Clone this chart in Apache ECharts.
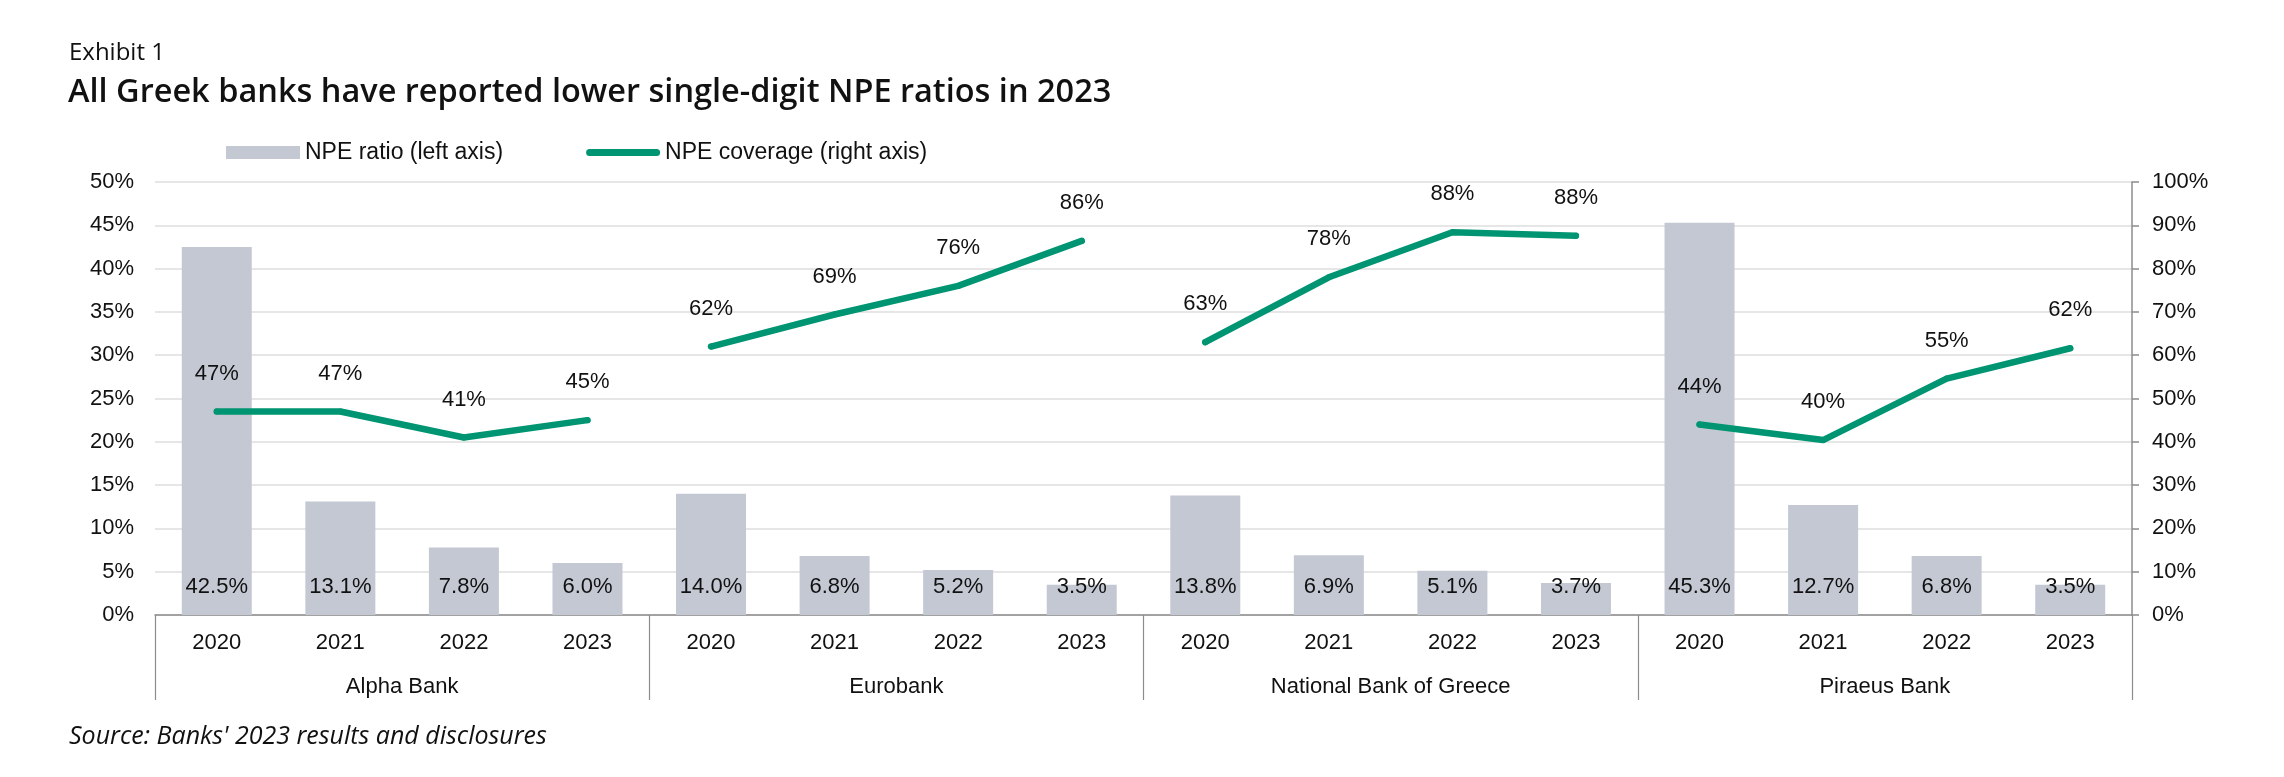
<!DOCTYPE html>
<html>
<head>
<meta charset="utf-8">
<script src="https://cdn.jsdelivr.net/npm/echarts@6/dist/echarts.min.js"></script>
<style>
html,body{margin:0;padding:0;background:#fff;}
#chart{width:2284px;height:777px;}
</style>
</head>
<body>
<div id="chart"></div>
<script>
// ---- data ----
const banks = ['Alpha Bank', 'Eurobank', 'National Bank of Greece', 'Piraeus Bank'];
const years = ['2020', '2021', '2022', '2023'];
const npeRatio = [42.5, 13.1, 7.8, 6.0, 14.0, 6.8, 5.2, 3.5, 13.8, 6.9, 5.1, 3.7, 45.3, 12.7, 6.8, 3.5];
const coverageAlpha = [47, 47, 41, 45];
const coverageEurobank = [62, 69.4, 76, 86.4];
const coverageNBG = [63, 78, 88.4, 87.6];
const coveragePiraeus = [44, 40.4, 54.6, 61.6];
const leftTicks = [0, 50, 5];
const rightTicks = [0, 100, 10];

const coverage = [coverageAlpha, coverageEurobank, coverageNBG, coveragePiraeus];
const yearCats = [];
banks.forEach(b => years.forEach(y => yearCats.push(y)));

const LINE = '#009572';
const BAR = '#c4c8d3';
const AX = '#8c8c8c';
const FONT = '"Liberation Sans", Arial, sans-serif';
const lineName = 'NPE coverage (right axis)';

const lineSeries = coverage.map((vals, bi) => {
  const data = yearCats.map(() => null);
  vals.forEach((v, j) => { data[bi * years.length + j] = v; });
  return {
    name: lineName,
    type: 'line',
    yAxisIndex: 1,
    data: data,
    connectNulls: false,
    symbol: 'circle',
    symbolSize: 6,
    itemStyle: { color: LINE },
    lineStyle: { color: LINE, width: 6.5, cap: 'round', join: 'round' },
    label: {
      show: true, position: 'top', distance: 24,
      fontFamily: FONT, fontSize: 22, color: '#111',
      formatter: p => (p.value == null ? '' : Math.round(p.value) + '%')
    },
    emphasis: { disabled: true },
    z: 3
  };
});

const chart = echarts.init(document.getElementById('chart'), null, { renderer: 'canvas' });
chart.setOption({
  animation: false,
  backgroundColor: '#fff',
  title: [
    { text: 'Exhibit 1', left: 69, top: 41, padding: 0,
      textStyle: { fontFamily: '"Open Sans", sans-serif', fontSize: 24, fontWeight: 'normal', color: '#111' } },
    { text: 'All Greek banks have reported lower single-digit NPE ratios in 2023', left: 68, top: 76, padding: 0,
      textStyle: { fontFamily: '"Open Sans", sans-serif', fontSize: 32.5, fontWeight: 600, color: '#111' } },
    { text: "Source: Banks' 2023 results and disclosures", left: 69, top: 724, padding: 0,
      textStyle: { fontFamily: '"Open Sans", sans-serif', fontSize: 25, fontStyle: 'italic', fontWeight: 'normal', color: '#111' } }
  ],
  legend: {
    left: 226, top: 141, padding: 0,
    itemWidth: 74, itemHeight: 13, itemGap: 83,
    textStyle: { fontFamily: FONT, fontSize: 23, color: '#111' },
    data: [
      { name: 'NPE ratio (left axis)', icon: 'rect' },
      { name: lineName, icon: 'path://M3.5,0 H70.5 A3.5,3.5 0 0 1 70.5,7 H3.5 A3.5,3.5 0 0 1 3.5,0 Z' }
    ],
    selectedMode: false
  },
  grid: { left: 155, right: 152, top: 182, bottom: 162, containLabel: false },
  xAxis: [
    {
      type: 'category', data: yearCats, position: 'bottom',
      axisLine: { show: true, lineStyle: { color: AX, width: 1.5 } },
      axisTick: { show: false },
      axisLabel: { fontFamily: FONT, fontSize: 22, color: '#111', margin: 17, interval: 0 }
    },
    {
      type: 'category', data: banks, position: 'bottom',
      axisLine: { show: false },
      axisTick: { show: true, length: 85, lineStyle: { color: AX, width: 1.2 } },
      axisLabel: { fontFamily: FONT, fontSize: 22, color: '#111', margin: 61, interval: 0 }
    }
  ],
  yAxis: [
    {
      type: 'value', min: leftTicks[0], max: leftTicks[1], interval: leftTicks[2],
      axisLine: { show: false }, axisTick: { show: false },
      axisLabel: { fontFamily: FONT, fontSize: 22, color: '#111', margin: 21, formatter: '{value}%' },
      splitLine: { show: true, lineStyle: { color: '#dedede', width: 1.5 } }
    },
    {
      type: 'value', min: rightTicks[0], max: rightTicks[1], interval: rightTicks[2], position: 'right',
      axisLine: { show: true, lineStyle: { color: AX, width: 1.5 } },
      axisTick: { show: true, length: 7, lineStyle: { color: AX, width: 1.5 } },
      axisLabel: { fontFamily: FONT, fontSize: 22, color: '#111', margin: 20, formatter: '{value}%' },
      splitLine: { show: false }
    }
  ],
  series: [
    {
      name: 'NPE ratio (left axis)', type: 'bar', xAxisIndex: 0, yAxisIndex: 0,
      data: npeRatio, barWidth: 70,
      itemStyle: { color: BAR },
      label: {
        show: true, position: 'insideBottom', distance: 17,
        fontFamily: FONT, fontSize: 22, color: '#111',
        formatter: p => p.value.toFixed(1) + '%'
      },
      emphasis: { disabled: true },
      z: 2
    }
  ].concat(lineSeries)
});
</script>
</body>
</html>
